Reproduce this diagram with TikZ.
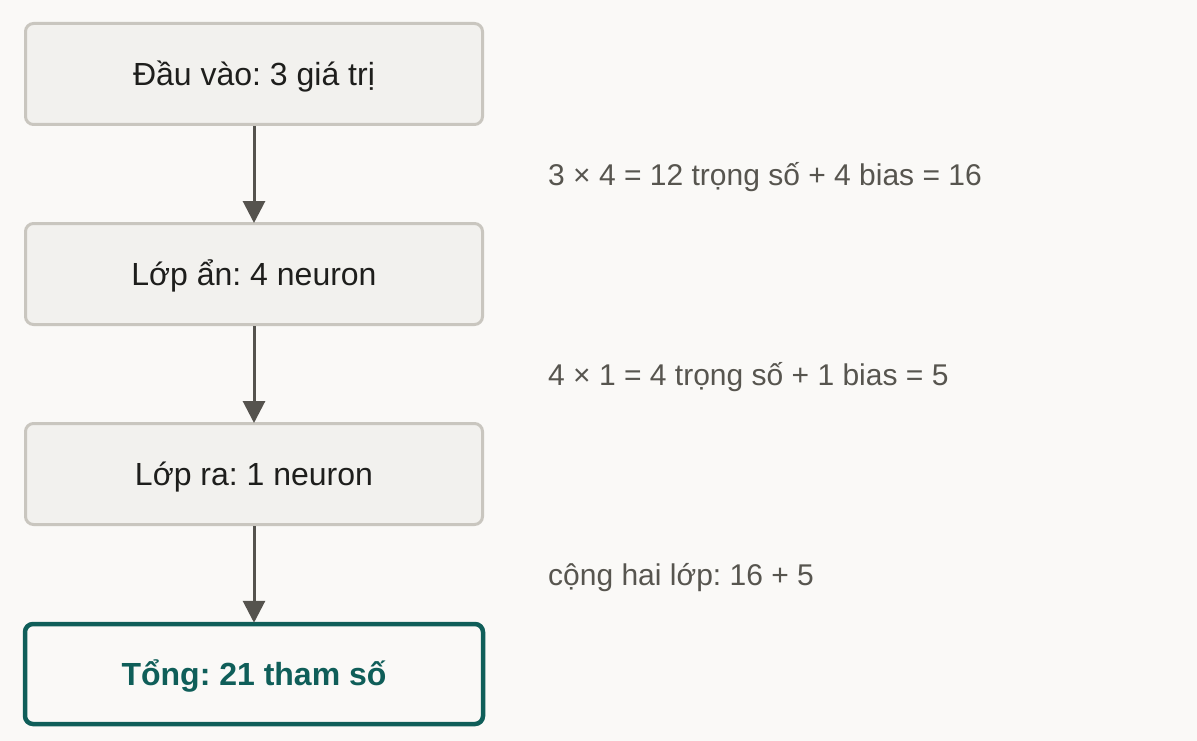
\documentclass[tikz,border=0pt]{standalone}
\usepackage{fontspec}
\setmainfont{Liberation Sans}
\frenchspacing
\usetikzlibrary{arrows.meta}
\definecolor{bgc}{HTML}{FAF9F7}
\definecolor{boxfill}{HTML}{F2F1EE}
\definecolor{boxline}{HTML}{C9C6BF}
\definecolor{txt}{HTML}{1E1E1C}
\definecolor{arrowc}{HTML}{55534E}
\definecolor{lbl}{HTML}{57554F}
\definecolor{teal}{HTML}{0F5E59}
\tikzset{
  stepbox/.style={draw=boxline, fill=boxfill, line width=3pt, rounded corners=8pt,
    minimum width=457pt, minimum height=101pt, inner sep=0pt, text=txt,
    text height=30pt, text depth=6.6pt,
    font=\fontsize{32}{36}\selectfont},
  totalbox/.style={draw=teal, fill=bgc, line width=4.5pt, rounded corners=8pt,
    minimum width=458pt, minimum height=100pt, inner sep=0pt, text=teal,
    text height=30pt, text depth=6.6pt,
    font=\fontsize{32}{36}\selectfont\bfseries},
  flow/.style={draw=arrowc, line width=3pt, -{Triangle[length=22pt,width=22pt]}, shorten >=-1pt},
  note/.style={anchor=base west, text=lbl, inner sep=0pt, font=\fontsize{30}{34}\selectfont}
}
\begin{document}
\begin{tikzpicture}[x=1pt,y=-1pt]
\path[fill=bgc] (0,0) rectangle (1197,741);
\useasboundingbox (0,0) rectangle (1197,741);
\node[stepbox] (in) at (254,74) {Đầu vào: 3 giá trị};
\node[stepbox] (hid) at (254,274) {Lớp ẩn: 4 neuron};
\node[stepbox] (out) at (254,474) {Lớp ra: 1 neuron};
\node[totalbox] (tot) at (254,674) {Tổng: 21 tham số};
\draw[flow] (in.south) -- (hid.north);
\draw[flow] (hid.south) -- (out.north);
\draw[flow] (out.south) -- (tot.north);
\node[note] (n1) at (548,185.5) {3 × 4 = 12 trọng số + 4 bias = 16};
\node[note] (n2) at (548,385.5) {4 × 1 = 4 trọng số + 1 bias = 5};
\node[note] (n3) at (548,585.5) {cộng hai lớp: 16 + 5};
\end{tikzpicture}
\end{document}
